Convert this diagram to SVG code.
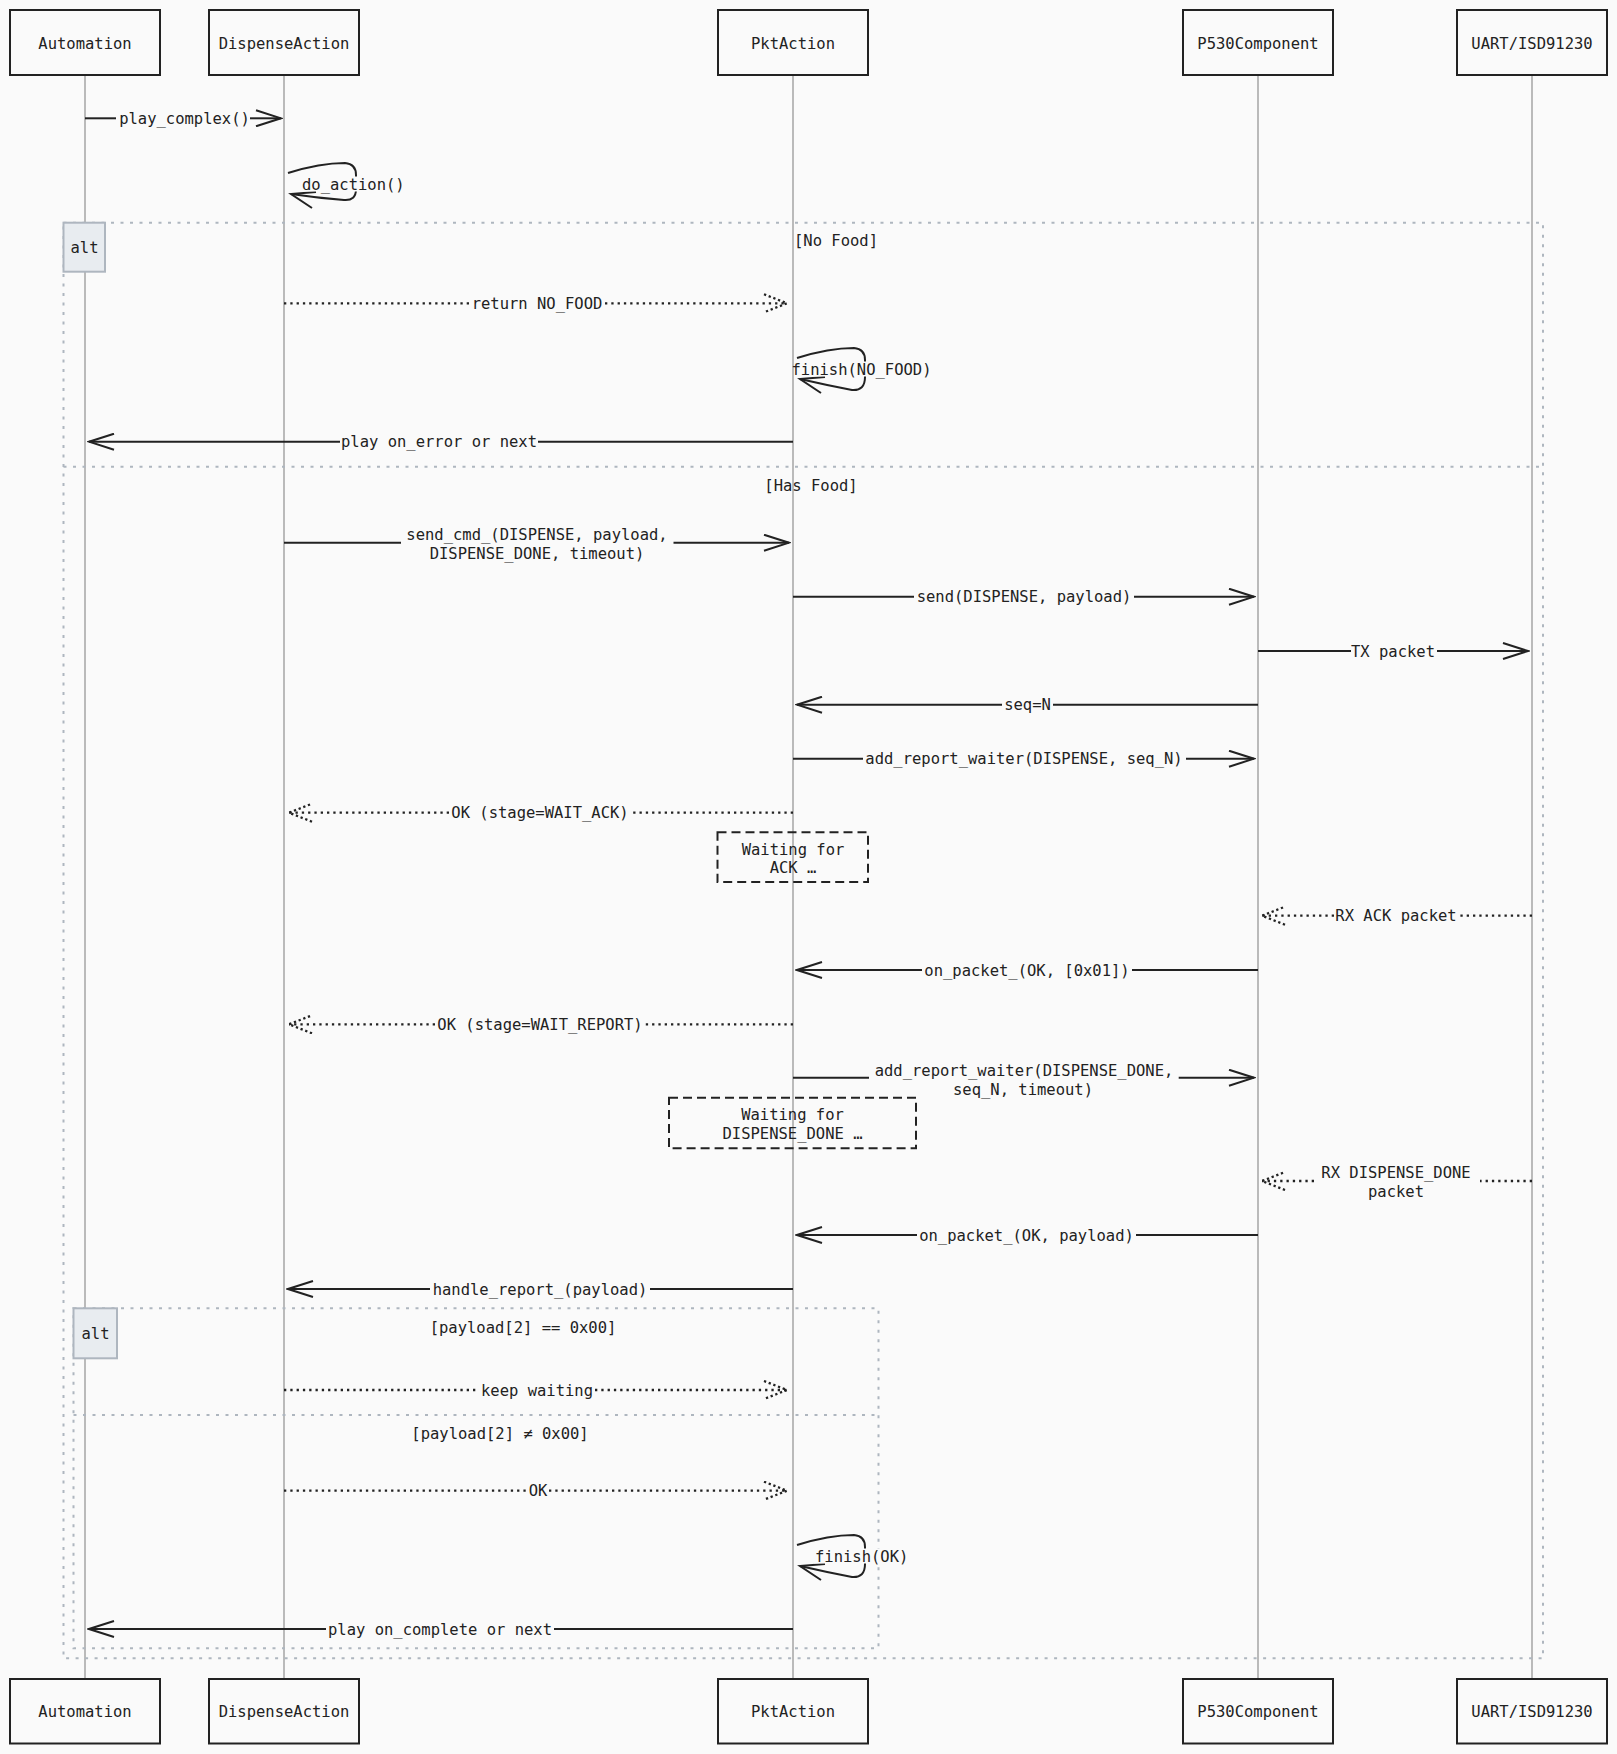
<svg xmlns="http://www.w3.org/2000/svg" width="1617" height="1754" viewBox="0 0 1617 1754">
<defs>
<style>
.t{font-family:"DejaVu Sans Mono","Liberation Mono",monospace;font-size:15.5px;fill:#222}
.m{text-anchor:middle}
.actor{fill:#fafafa;stroke:#222;stroke-width:2}
.life{stroke:#aaaaaa;stroke-width:1.6}
.frame{fill:none;stroke:#aeb6bf;stroke-width:2;stroke-dasharray:3 6.5}
.altlbl{fill:#e8ecf0;stroke:#aeb6bf;stroke-width:2}
.msg{fill:none;stroke:#222;stroke-width:2}
.dot{stroke-width:2.3;stroke-dasharray:2.3 4}
.note{fill:none;stroke:#222;stroke-width:2;stroke-dasharray:9 5}
.lbg{fill:#fafafa}
</style>
<marker id="arr" viewBox="0 0 28 18" refX="26" refY="9" markerWidth="28" markerHeight="18" markerUnits="userSpaceOnUse" orient="auto">
<path d="M1 1 L26 9 L1 17" fill="none" stroke="#222" stroke-width="2"/>
</marker>
<marker id="arrd" viewBox="0 0 28 20" refX="26" refY="10" markerWidth="28" markerHeight="20" markerUnits="userSpaceOnUse" orient="auto">
<path d="M3 1 L26 10 L3 19" fill="none" stroke="#222" stroke-width="2.3" stroke-dasharray="2.3 2.7"/>
</marker>
</defs>
<rect class="bg" x="0" y="0" width="1617" height="1754" fill="#fafafa"/>

<g id="lifelines">
<line class="life" x1="85" y1="76" x2="85" y2="1679"/>
<line class="life" x1="284" y1="76" x2="284" y2="1679"/>
<line class="life" x1="793" y1="76" x2="793" y2="1679"/>
<line class="life" x1="1258" y1="76" x2="1258" y2="1679"/>
<line class="life" x1="1532" y1="76" x2="1532" y2="1679"/>
</g>

<g id="frames">
<rect class="frame" x="63.5" y="222.7" width="1479.5" height="1435.6"/>
<line class="frame" x1="63.5" y1="466.7" x2="1543" y2="466.7"/>
<rect class="altlbl" x="63.5" y="222.7" width="41.5" height="49"/>
<text class="t m" x="84.5" y="252.5">alt</text>
<text class="t m" x="836" y="246">[No Food]</text>
<text class="t m" x="811" y="491">[Has Food]</text>
<rect class="frame" x="73.5" y="1308.3" width="805" height="340"/>
<line class="frame" x1="73.5" y1="1415" x2="878.5" y2="1415"/>
<rect class="altlbl" x="73.5" y="1308.3" width="43.5" height="50"/>
<text class="t m" x="95.5" y="1338.5">alt</text>
<text class="t m" x="523" y="1332.8">[payload[2] == 0x00]</text>
<text class="t m" x="500" y="1438.8">[payload[2] ≠ 0x00]</text>
</g>

<g id="notes">
<g id="note-ack">
<rect class="note" x="717.5" y="832.3" width="150.5" height="49.7"/>
<text class="t m" x="793" y="854.5">Waiting for</text>
<text class="t m" x="793" y="873.2">ACK …</text>
</g>
<g id="note-done">
<rect class="note" x="669" y="1097.7" width="247" height="50.6"/>
<text class="t m" x="792.5" y="1119.8">Waiting for</text>
<text class="t m" x="792.5" y="1138.8">DISPENSE_DONE …</text>
</g>
</g>

<g id="connectors">
<!-- play_complex -->
<line class="msg" x1="85" y1="118.3" x2="116" y2="118.3"/>
<line class="msg" x1="250" y1="118.3" x2="281" y2="118.3" marker-end="url(#arr)"/>
<text class="t m" x="184.5" y="123.8">play_complex()</text>
<!-- do_action -->
<path class="msg" d="M288 173 Q320 163 345 163 Q356 164 356 175 L356 189 Q356 201 344 200 Q318 198 291 194"/>
<path class="msg" d="M316 192 L291 194 L312 208"/>
<rect class="lbg" x="301" y="176.5" width="103" height="15"/>
<text class="t" x="302" y="189.5">do_action()</text>
<!-- return NO_FOOD -->
<line class="msg dot" x1="284" y1="303.3" x2="469" y2="303.3"/>
<line class="msg dot" x1="605" y1="303.3" x2="787" y2="303.3" marker-end="url(#arrd)"/>
<text class="t m" x="537" y="308.8">return NO_FOOD</text>
<!-- finish(NO_FOOD) -->
<path class="msg" d="M797 358 Q829 348 854 348 Q865 349 865 360 L865 377 Q865 391 852 390 Q826 385 800 379"/>
<path class="msg" d="M825 377 L800 379 L821 393"/>
<rect class="lbg" x="795" y="361.5" width="137" height="15"/>
<text class="t" x="791.5" y="374.8">finish(NO_FOOD)</text>
<!-- play on_error -->
<line class="msg" x1="793" y1="441.7" x2="538" y2="441.7"/>
<line class="msg" x1="340" y1="441.7" x2="89" y2="441.7" marker-end="url(#arr)"/>
<text class="t m" x="439" y="447.2">play on_error or next</text>
<!-- send_cmd -->
<line class="msg" x1="284" y1="542.7" x2="401" y2="542.7"/>
<line class="msg" x1="673.5" y1="542.7" x2="789" y2="542.7" marker-end="url(#arr)"/>
<text class="t m" x="537" y="539.8">send_cmd_(DISPENSE, payload, </text>
<text class="t m" x="537" y="558.8">DISPENSE_DONE, timeout)</text>
<!-- send -->
<line class="msg" x1="793" y1="596.7" x2="914" y2="596.7"/>
<line class="msg" x1="1134" y1="596.7" x2="1254" y2="596.7" marker-end="url(#arr)"/>
<text class="t m" x="1024" y="602.2">send(DISPENSE, payload)</text>
<!-- TX packet -->
<line class="msg" x1="1258" y1="651" x2="1351" y2="651"/>
<line class="msg" x1="1437" y1="651" x2="1528" y2="651" marker-end="url(#arr)"/>
<text class="t m" x="1393" y="656.5">TX packet</text>
<!-- seq=N -->
<line class="msg" x1="1258" y1="704.7" x2="1053" y2="704.7"/>
<line class="msg" x1="1002" y1="704.7" x2="797" y2="704.7" marker-end="url(#arr)"/>
<text class="t m" x="1027.5" y="710.2">seq=N</text>
<!-- add_report_waiter 1 -->
<line class="msg" x1="793" y1="758.7" x2="863" y2="758.7"/>
<line class="msg" x1="1186" y1="758.7" x2="1254" y2="758.7" marker-end="url(#arr)"/>
<text class="t m" x="1024" y="764.2">add_report_waiter(DISPENSE, seq_N)</text>
<!-- OK WAIT_ACK -->
<line class="msg dot" x1="793" y1="812.7" x2="632" y2="812.7"/>
<line class="msg dot" x1="449" y1="812.7" x2="289" y2="812.7" marker-end="url(#arrd)"/>
<text class="t m" x="540" y="818.2">OK (stage=WAIT_ACK)</text>
<!-- RX ACK packet -->
<line class="msg dot" x1="1532" y1="915.7" x2="1458" y2="915.7"/>
<line class="msg dot" x1="1334" y1="915.7" x2="1262" y2="915.7" marker-end="url(#arrd)"/>
<text class="t m" x="1396" y="921.2">RX ACK packet</text>
<!-- on_packet 0x01 -->
<line class="msg" x1="1258" y1="970" x2="1132" y2="970"/>
<line class="msg" x1="922" y1="970" x2="797" y2="970" marker-end="url(#arr)"/>
<text class="t m" x="1027" y="975.5">on_packet_(OK, [0x01])</text>
<!-- OK WAIT_REPORT -->
<line class="msg dot" x1="793" y1="1024.3" x2="645" y2="1024.3"/>
<line class="msg dot" x1="435" y1="1024.3" x2="289" y2="1024.3" marker-end="url(#arrd)"/>
<text class="t m" x="540" y="1029.8">OK (stage=WAIT_REPORT)</text>
<!-- add_report_waiter 2 -->
<line class="msg" x1="793" y1="1077.7" x2="869" y2="1077.7"/>
<line class="msg" x1="1178.7" y1="1077.7" x2="1254" y2="1077.7" marker-end="url(#arr)"/>
<text class="t m" x="1024" y="1075.5">add_report_waiter(DISPENSE_DONE, </text>
<text class="t m" x="1023" y="1094.5">seq_N, timeout)</text>
<!-- RX DISPENSE_DONE -->
<line class="msg dot" x1="1532" y1="1181" x2="1480" y2="1181"/>
<line class="msg dot" x1="1314" y1="1181" x2="1262" y2="1181" marker-end="url(#arrd)"/>
<text class="t m" x="1396" y="1177.8">RX DISPENSE_DONE </text>
<text class="t m" x="1396" y="1196.8">packet</text>
<!-- on_packet payload -->
<line class="msg" x1="1258" y1="1235" x2="1136" y2="1235"/>
<line class="msg" x1="917" y1="1235" x2="797" y2="1235" marker-end="url(#arr)"/>
<text class="t m" x="1026.5" y="1240.5">on_packet_(OK, payload)</text>
<!-- handle_report -->
<line class="msg" x1="793" y1="1289" x2="650" y2="1289"/>
<line class="msg" x1="430" y1="1289" x2="288" y2="1289" marker-end="url(#arr)"/>
<text class="t m" x="540" y="1294.5">handle_report_(payload)</text>
<!-- keep waiting -->
<line class="msg dot" x1="284" y1="1390" x2="479" y2="1390"/>
<line class="msg dot" x1="595" y1="1390" x2="787" y2="1390" marker-end="url(#arrd)"/>
<text class="t m" x="537" y="1395.5">keep waiting</text>
<!-- OK -->
<line class="msg dot" x1="284" y1="1490.7" x2="527" y2="1490.7"/>
<line class="msg dot" x1="549" y1="1490.7" x2="787" y2="1490.7" marker-end="url(#arrd)"/>
<text class="t m" x="538" y="1496.2">OK</text>
<!-- finish(OK) -->
<path class="msg" d="M797 1545 Q829 1535 854 1535 Q865 1536 865 1547 L865 1564 Q865 1578 852 1577 Q826 1572 800 1566"/>
<path class="msg" d="M825 1564 L800 1566 L821 1580"/>
<rect class="lbg" x="814" y="1548.5" width="95" height="15"/>
<text class="t" x="815" y="1561.5">finish(OK)</text>
<!-- play on_complete -->
<line class="msg" x1="793" y1="1629" x2="554" y2="1629"/>
<line class="msg" x1="326" y1="1629" x2="89" y2="1629" marker-end="url(#arr)"/>
<text class="t m" x="440" y="1634.5">play on_complete or next</text>
</g>

<g id="automation">
<rect class="actor" x="10" y="10" width="150" height="65"/>
<text class="t m" x="85" y="48.5">Automation</text>
<rect class="actor" x="10" y="1679" width="150" height="64.5"/>
<text class="t m" x="85" y="1716.5">Automation</text>
</g>
<g id="dispenseaction">
<rect class="actor" x="209" y="10" width="150" height="65"/>
<text class="t m" x="284" y="48.5">DispenseAction</text>
<rect class="actor" x="209" y="1679" width="150" height="64.5"/>
<text class="t m" x="284" y="1716.5">DispenseAction</text>
</g>
<g id="pktaction">
<rect class="actor" x="718" y="10" width="150" height="65"/>
<text class="t m" x="793" y="48.5">PktAction</text>
<rect class="actor" x="718" y="1679" width="150" height="64.5"/>
<text class="t m" x="793" y="1716.5">PktAction</text>
</g>
<g id="p530component">
<rect class="actor" x="1183" y="10" width="150" height="65"/>
<text class="t m" x="1258" y="48.5">P530Component</text>
<rect class="actor" x="1183" y="1679" width="150" height="64.5"/>
<text class="t m" x="1258" y="1716.5">P530Component</text>
</g>
<g id="uart">
<rect class="actor" x="1457" y="10" width="150" height="65"/>
<text class="t m" x="1532" y="48.5">UART/ISD91230</text>
<rect class="actor" x="1457" y="1679" width="150" height="64.5"/>
<text class="t m" x="1532" y="1716.5">UART/ISD91230</text>
</g>
</svg>
